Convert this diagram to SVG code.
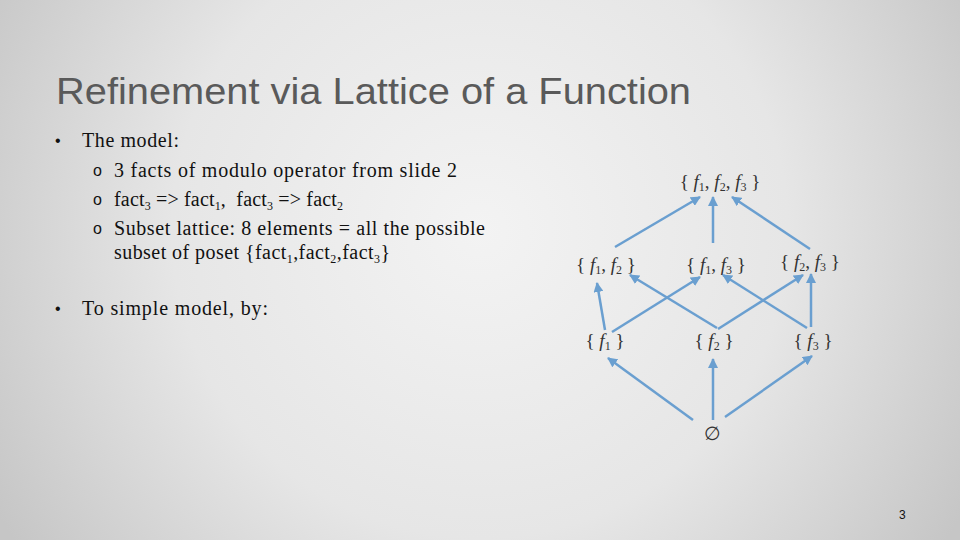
<svg xmlns="http://www.w3.org/2000/svg" width="960" height="540" viewBox="0 0 960 540">
<defs>
<radialGradient id="bg" cx="480" cy="230" r="560" gradientUnits="userSpaceOnUse">
<stop offset="0" stop-color="#f3f3f3"/>
<stop offset="0.55" stop-color="#e6e6e6"/>
<stop offset="1" stop-color="#c6c6c6"/>
</radialGradient>
<marker id="ah" viewBox="0 0 10 10" refX="9" refY="5" markerWidth="4" markerHeight="4" orient="auto" markerUnits="strokeWidth">
<path d="M0,0 L10,5 L0,10 z" fill="#6a9fd0"/>
</marker>
<style>
.title{font-family:"Liberation Sans",Arial,sans-serif;font-size:36px;fill:#5a5a5a}
.body{font-family:"Liberation Serif","Times New Roman",serif;font-size:20px;fill:#111}
.sub{font-size:12px}
.bul{font-family:"Liberation Sans",Arial,sans-serif;font-size:16px;fill:#111}
.lab{font-family:"Liberation Serif","Times New Roman",serif;font-size:19px;fill:#333;text-anchor:middle}
.lab .f{font-style:italic}
.lab .s{font-size:12px}
.edge{stroke:#6a9fd0;stroke-width:2.5;fill:none;marker-end:url(#ah)}
.pg{font-family:"Liberation Sans",Arial,sans-serif;font-size:12px;fill:#111}
</style>
</defs>
<rect width="960" height="540" fill="url(#bg)"/>
<text class="title" x="56" y="104" textLength="635" lengthAdjust="spacingAndGlyphs">Refinement via Lattice of a Function</text>
<g id="bullets">
<text class="bul" x="55" y="146">•</text>
<text class="body" x="82" y="147" textLength="97">The model:</text>
<text class="bul" x="93" y="176">o</text>
<text class="body" x="114" y="177" textLength="343">3 facts of modulo operator from slide 2</text>
<text class="bul" x="93" y="205">o</text>
<text class="body" x="114" y="206" textLength="229">fact<tspan class="sub" dy="4">3</tspan><tspan dy="-4"> =&gt; fact</tspan><tspan class="sub" dy="4">1</tspan><tspan dy="-4">,&#160; fact</tspan><tspan class="sub" dy="4">3</tspan><tspan dy="-4"> =&gt; fact</tspan><tspan class="sub" dy="4">2</tspan></text>
<text class="bul" x="93" y="234">o</text>
<text class="body" x="114" y="235" textLength="371">Subset lattice: 8 elements = all the possible</text>
<text class="body" x="114" y="259" textLength="276">subset of poset {fact<tspan class="sub" dy="4">1</tspan><tspan dy="-4">,fact</tspan><tspan class="sub" dy="4">2</tspan><tspan dy="-4">,fact</tspan><tspan class="sub" dy="4">3</tspan><tspan dy="-4">}</tspan></text>
<text class="bul" x="55" y="314">•</text>
<text class="body" x="82" y="315" textLength="186">To simple model, by:</text>
</g>
<g id="connectors">
<line class="edge" x1="615" y1="247" x2="700" y2="197"/>
<line class="edge" x1="713" y1="243" x2="713" y2="197"/>
<line class="edge" x1="810" y1="249" x2="732" y2="197"/>
<line class="edge" x1="605" y1="330" x2="597" y2="283"/>
<line class="edge" x1="612" y1="332" x2="700" y2="277"/>
<line class="edge" x1="717" y1="328" x2="630" y2="275"/>
<line class="edge" x1="718" y1="329" x2="803" y2="275"/>
<line class="edge" x1="807" y1="328" x2="723" y2="275"/>
<line class="edge" x1="811" y1="327" x2="811" y2="274"/>
<line class="edge" x1="693" y1="420" x2="608" y2="358"/>
<line class="edge" x1="713" y1="420" x2="713" y2="359"/>
<line class="edge" x1="725" y1="417" x2="812" y2="356"/>
</g>
<g id="n123"><text class="lab" x="720" y="188">{ <tspan class="f">f</tspan><tspan class="s" dy="3">1</tspan><tspan dy="-3">, </tspan><tspan class="f">f</tspan><tspan class="s" dy="3">2</tspan><tspan dy="-3">, </tspan><tspan class="f">f</tspan><tspan class="s" dy="3">3</tspan><tspan dy="-3"> }</tspan></text></g>
<g id="n12"><text class="lab" x="606" y="271">{ <tspan class="f">f</tspan><tspan class="s" dy="3">1</tspan><tspan dy="-3">, </tspan><tspan class="f">f</tspan><tspan class="s" dy="3">2</tspan><tspan dy="-3"> }</tspan></text></g>
<g id="n13"><text class="lab" x="716" y="271">{ <tspan class="f">f</tspan><tspan class="s" dy="3">1</tspan><tspan dy="-3">, </tspan><tspan class="f">f</tspan><tspan class="s" dy="3">3</tspan><tspan dy="-3"> }</tspan></text></g>
<g id="n23"><text class="lab" x="810" y="268">{ <tspan class="f">f</tspan><tspan class="s" dy="3">2</tspan><tspan dy="-3">, </tspan><tspan class="f">f</tspan><tspan class="s" dy="3">3</tspan><tspan dy="-3"> }</tspan></text></g>
<g id="n1"><text class="lab" x="605" y="347">{ <tspan class="f">f</tspan><tspan class="s" dy="3">1</tspan><tspan dy="-3"> }</tspan></text></g>
<g id="n2"><text class="lab" x="714" y="347">{ <tspan class="f">f</tspan><tspan class="s" dy="3">2</tspan><tspan dy="-3"> }</tspan></text></g>
<g id="n3"><text class="lab" x="813" y="347">{ <tspan class="f">f</tspan><tspan class="s" dy="3">3</tspan><tspan dy="-3"> }</tspan></text></g>
<g id="n0"><text class="lab" x="712" y="440">∅</text></g>
<text class="pg" x="899" y="519">3</text>
</svg>
